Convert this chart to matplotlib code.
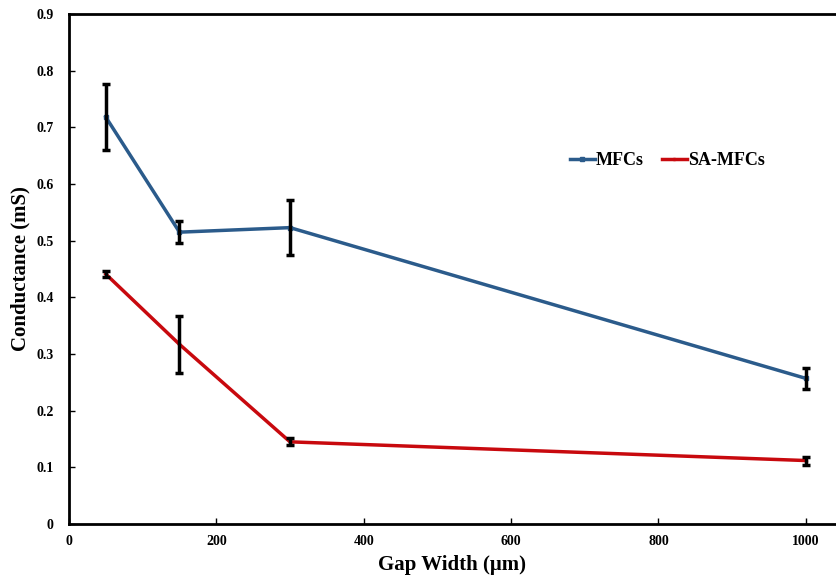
import matplotlib
matplotlib.use("Agg")
import matplotlib.pyplot as plt

gap = [50, 150, 300, 1000]
mfc = [0.718, 0.515, 0.523, 0.257]
mfc_err = [0.058, 0.019, 0.048, 0.018]
sa = [0.441, 0.317, 0.145, 0.112]
sa_err = [0.005, 0.050, 0.006, 0.007]

plt.rcParams['font.family'] = ['Liberation Serif', 'DejaVu Serif']
plt.rcParams['font.weight'] = 'bold'

fig = plt.figure(figsize=(8.36, 5.78), dpi=100)
ax = fig.add_axes([0.0825, 0.0934, 0.9175, 0.8824])

blue = '#2b5b8b'
red = '#c8090e'

ax.plot(gap, mfc, color=blue, lw=2.5, marker='s', ms=3.5, label='MFCs', zorder=3)
ax.plot(gap, sa, color=red, lw=2.5, marker='s', ms=2, label='SA-MFCs', zorder=3)
ax.errorbar(gap, mfc, yerr=mfc_err, fmt='none', ecolor='black', elinewidth=2.5,
            capsize=3, capthick=2.5, zorder=4)
ax.errorbar(gap, sa, yerr=sa_err, fmt='none', ecolor='black', elinewidth=2.5,
            capsize=3, capthick=2.5, zorder=4)

ax.set_xlim(0, 1041)
ax.set_ylim(0, 0.9)
ax.set_xticks([0, 200, 400, 600, 800, 1000])
ax.set_yticks([0, 0.1, 0.2, 0.3, 0.4, 0.5, 0.6, 0.7, 0.8, 0.9])
ax.set_yticklabels(['0', '0.1', '0.2', '0.3', '0.4', '0.5', '0.6', '0.7', '0.8', '0.9'])
ax.tick_params(direction='in', length=4, width=1, labelsize=10)
ax.tick_params(axis='x', pad=8)
ax.tick_params(axis='y', pad=11)
ax.spines['right'].set_visible(False)
for s in ['left', 'top', 'bottom']:
    ax.spines[s].set_linewidth(2)

ax.set_xlabel('Gap Width (μm)', fontsize=15, fontweight='bold', labelpad=5)
ax.set_ylabel('Conductance (mS)', fontsize=15, fontweight='bold', labelpad=4)

ax.legend(loc='center', bbox_to_anchor=(0.78, 0.712), ncol=2, frameon=False,
          handlelength=1.4, handletextpad=0.05, columnspacing=1.0,
          prop={'weight': 'bold', 'size': 13})

fig.savefig('out.png', dpi=100)
